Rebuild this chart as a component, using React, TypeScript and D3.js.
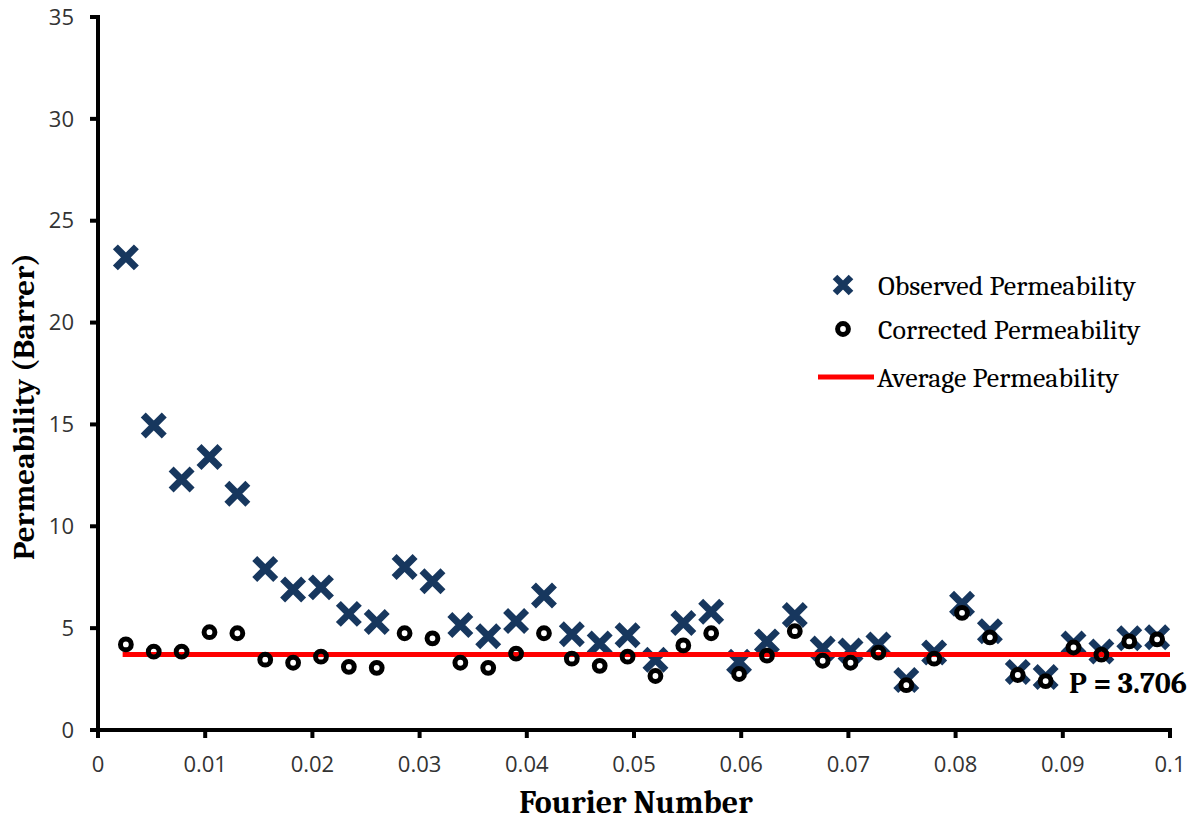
import React from "react";
import * as d3 from "d3";

const fourier = [0.0026, 0.0052, 0.0078, 0.0104, 0.013, 0.0156, 0.0182, 0.0208, 0.0234, 0.026, 0.0286, 0.0312, 0.0338, 0.0364, 0.039, 0.0416, 0.0442, 0.0468, 0.0494, 0.052, 0.0546, 0.0572, 0.0598, 0.0624, 0.065, 0.0676, 0.0702, 0.0728, 0.0754, 0.078, 0.0806, 0.0832, 0.0858, 0.0884, 0.091, 0.0936, 0.0962, 0.0988];
const observed = [23.2, 14.95, 12.3, 13.4, 11.6, 7.9, 6.9, 7.0, 5.7, 5.3, 8.0, 7.3, 5.15, 4.6, 5.35, 6.6, 4.7, 4.25, 4.65, 3.45, 5.25, 5.8, 3.35, 4.35, 5.65, 4.0, 3.9, 4.2, 2.45, 3.8, 6.2, 4.85, 2.85, 2.6, 4.25, 3.85, 4.5, 4.55];
const corrected = [4.2, 3.85, 3.85, 4.8, 4.75, 3.45, 3.3, 3.6, 3.1, 3.05, 4.75, 4.5, 3.3, 3.05, 3.75, 4.75, 3.5, 3.15, 3.6, 2.65, 4.15, 4.75, 2.75, 3.65, 4.85, 3.4, 3.3, 3.8, 2.2, 3.5, 5.75, 4.55, 2.7, 2.4, 4.05, 3.7, 4.35, 4.45];
const averageX = [0.0023, 0.1];
const averageValue = 3.706;
const xTicks = [0, 0.01, 0.02, 0.03, 0.04, 0.05, 0.06, 0.07, 0.08, 0.09, 0.1];
const xTickLabels = ["0", "0.01", "0.02", "0.03", "0.04", "0.05", "0.06", "0.07", "0.08", "0.09", "0.1"];
const yTicks = [0, 5, 10, 15, 20, 25, 30, 35];
const yTickLabels = ["0", "5", "10", "15", "20", "25", "30", "35"];
const legendLabels = ["Observed Permeability", "Corrected Permeability", "Average Permeability"];

const BLUE = "#17375E";
const SERIF = "Cambria, 'DejaVu Serif', serif";
const SANS = "'Open Sans', Calibri, sans-serif";

function Cross({ cx, cy, d, w }: { cx: number; cy: number; d: number; w: number }) {
  return (
    <path
      d={`M${cx - d},${cy - d}L${cx + d},${cy + d}M${cx - d},${cy + d}L${cx + d},${cy - d}`}
      stroke={BLUE}
      strokeWidth={w}
      fill="none"
    />
  );
}

export default function App() {
  const x = d3.scaleLinear().domain([0, 0.1]).range([98, 1170]);
  const y = d3.scaleLinear().domain([0, 35]).range([730, 17]);
  const line = d3
    .line<number>()
    .x((v) => x(v))
    .y(() => y(averageValue));

  const R = 5.4;
  const SW = 5;

  return (
    <svg width={1200} height={822} style={{ position: "absolute", left: 0, top: 0, background: "#fff" }}>
      <rect x={0} y={0} width={1200} height={822} fill="#fff" />
      {/* axes */}
      <line x1={x(0)} x2={x(0)} y1={y(35) - 2} y2={y(0) + 2} stroke="#000" strokeWidth={4} />
      <line x1={x(0) - 2} x2={x(0.1) + 2} y1={y(0)} y2={y(0)} stroke="#000" strokeWidth={4} />
      {yTicks.map((t, i) => (
        <g key={"yt" + i}>
          <line x1={x(0) - 8} x2={x(0)} y1={y(t)} y2={y(t)} stroke="#000" strokeWidth={4} />
          <text x={74} y={y(t)} dy="0.35em" textAnchor="end" fontFamily={SANS} fontSize={22} fill="#333">
            {yTickLabels[i]}
          </text>
        </g>
      ))}
      {xTicks.map((t, i) => (
        <g key={"xt" + i}>
          <line x1={x(t)} x2={x(t)} y1={y(0)} y2={y(0) + 8} stroke="#000" strokeWidth={4} />
          <text x={x(t)} y={772} textAnchor="middle" fontFamily={SANS} fontSize={22} fill="#333">
            {xTickLabels[i]}
          </text>
        </g>
      ))}
      {/* axis titles */}
      <text
        transform={`translate(34,${y(17.5) + 33}) rotate(-90)`}
        textAnchor="middle"
        fontFamily={SERIF}
        fontWeight="bold"
        fontSize={31}
        fill="#000"
      >
        Permeability (Barrer)
      </text>
      <text x={636} y={813} textAnchor="middle" fontFamily={SERIF} fontWeight="bold" fontSize={32} fill="#000">
        Fourier Number
      </text>

      {/* observed */}
      {observed.map((v, i) => (
        <Cross key={"o" + i} cx={x(fourier[i])} cy={y(v)} d={10.5} w={7} />
      ))}
      {/* corrected fill */}
      {corrected.map((v, i) => (
        <circle key={"cf" + i} cx={x(fourier[i])} cy={y(v)} r={R} fill="#fff" />
      ))}
      {/* average line */}
      <path d={line(averageX) || ""} stroke="#FF0000" strokeWidth={5} fill="none" />
      {/* corrected rings */}
      {corrected.map((v, i) => (
        <circle key={"cr" + i} cx={x(fourier[i])} cy={y(v)} r={R} fill="none" stroke="#000" strokeWidth={SW} />
      ))}
      <text x={1069} y={693} fontFamily={SERIF} fontWeight="bold" fontSize={30} fill="#000">
        P = 3.706
      </text>

      {/* legend */}
      <Cross cx={843} cy={285} d={8} w={6.5} />
      <text x={878} y={285} dy="0.35em" fontFamily={SERIF} fontSize={28} fill="#000">
        {legendLabels[0]}
      </text>
      <circle cx={843} cy={329} r={R} fill="#fff" stroke="#000" strokeWidth={SW} />
      <text x={878} y={329} dy="0.35em" fontFamily={SERIF} fontSize={28} fill="#000">
        {legendLabels[1]}
      </text>
      <line x1={818} x2={874} y1={377} y2={377} stroke="#FF0000" strokeWidth={5} />
      <text x={877} y={377} dy="0.35em" fontFamily={SERIF} fontSize={28} fill="#000">
        {legendLabels[2]}
      </text>
    </svg>
  );
}
